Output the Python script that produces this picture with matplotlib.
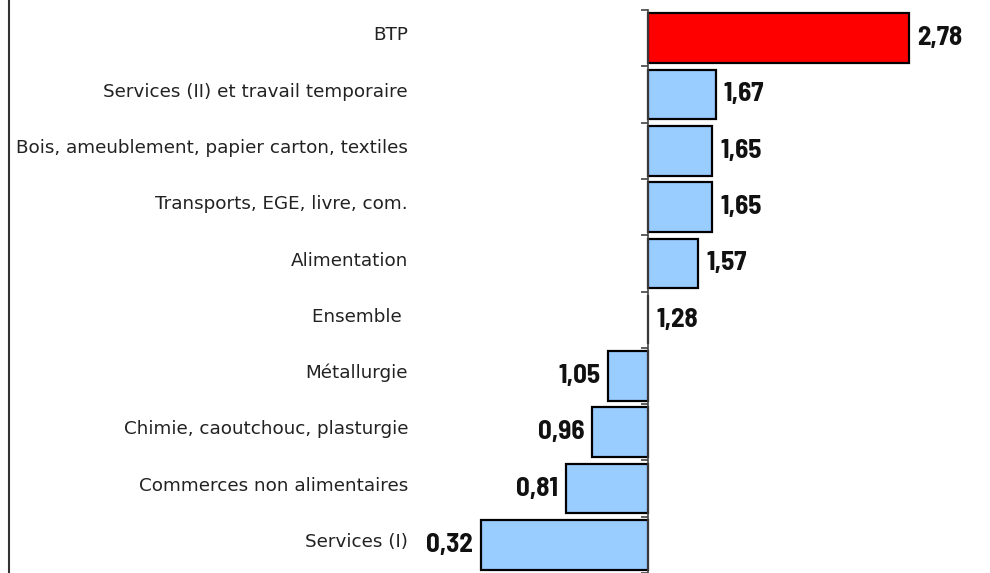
import matplotlib
matplotlib.use("Agg")
import matplotlib.pyplot as plt
import matplotlib.transforms as mtransforms
from matplotlib.lines import Line2D
import numpy as np

categories = ["BTP", "Services (II) et travail temporaire",
              "Bois, ameublement, papier carton, textiles",
              "Transports, EGE, livre, com.", "Alimentation", "Ensemble ",
              "Métallurgie", "Chimie, caoutchouc, plasturgie",
              "Commerces non alimentaires", "Services (I)"]
values = [2.78, 1.67, 1.65, 1.65, 1.57, 1.28, 1.05, 0.96, 0.81, 0.32]
value_labels = ["2,78", "1,67", "1,65", "1,65", "1,57", "1,28", "1,05", "0,96", "0,81", "0,32"]
baseline = 1.28
highlight = "BTP"

W, H = 990, 573
fig = plt.figure(figsize=(W / 100, H / 100), dpi=100)
ax = fig.add_axes([0, 0, 1, (H - 10) / H])

px_per_unit = 174.0
base_px = 648.0
ax.set_xlim(baseline - base_px / px_per_unit, baseline + (W - base_px) / px_per_unit)
ax.set_ylim(len(categories) - 0.5, -0.5)

y = np.arange(len(categories))
vals = np.array(values)
colors = ["#FF0000" if c == highlight else "#99CCFF" for c in categories]
ax.barh(y, vals - baseline, left=baseline, height=0.88, color=colors,
        edgecolor="black", linewidth=1.6, zorder=2)

for s in ["top", "right", "bottom"]:
    ax.spines[s].set_visible(False)
ax.spines["left"].set_position(("data", baseline))
ax.spines["left"].set_color("#444444")
ax.spines["left"].set_linewidth(1.2)
ax.set_xticks([])
ax.set_yticks(np.arange(len(categories) + 1) - 0.5, minor=True)
ax.set_yticks([])
ax.tick_params(axis="y", which="minor", length=5, width=1.2, color="#444444", direction="out")

# category labels in a fixed column
trans = mtransforms.blended_transform_factory(fig.transFigure, ax.transData)
for yi, c in zip(y, categories):
    ax.text(408 / W, yi - 0.05, c, transform=trans, ha="right", va="center",
            fontsize=13.2, family="DejaVu Sans", color="#222222")

# value labels
vfam = ["Arial Narrow", "Liberation Sans Narrow", "Barlow Semi Condensed", "DejaVu Sans"]
off = 8 / px_per_unit
for yi, v, lab in zip(y, values, value_labels):
    if v >= baseline:
        ax.text(v + off, yi, lab, ha="left", va="center", fontsize=19.5,
                fontweight="bold", family=vfam, color="#111111")
    else:
        ax.text(v - off, yi, lab, ha="right", va="center", fontsize=19.5,
                fontweight="bold", family=vfam, color="#111111")

fig.add_artist(Line2D([8.5 / W, 8.5 / W], [0, 1], transform=fig.transFigure,
                      color="#333333", linewidth=1.5))

fig.savefig("out.png", dpi=100)
